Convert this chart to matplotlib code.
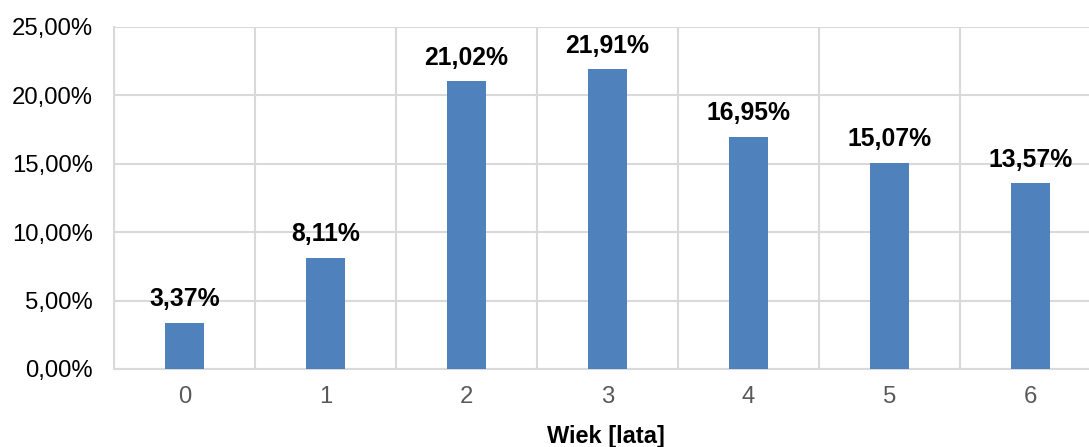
import matplotlib
matplotlib.use("Agg")
import matplotlib.pyplot as plt
from matplotlib.ticker import FuncFormatter, MultipleLocator

# Age distribution data
ages = ["0", "1", "2", "3", "4", "5", "6"]
shares = [3.37, 8.11, 21.02, 21.91, 16.95, 15.07, 13.57]
y_ticks = [0, 5, 10, 15, 20, 25]

plt.rcParams["font.family"] = ["Liberation Sans", "DejaVu Sans"]

W, H = 1089, 447
fig = plt.figure(figsize=(W / 100, H / 100), dpi=100)
ax = fig.add_axes([114 / W, 1 - 369 / H, (1101 - 114) / W, (369 - 27) / H])

x = list(range(len(ages)))
bar_color = "#4f81bd"
ax.bar(x, shares, width=0.27, color=bar_color, zorder=3)

for xi, v in zip(x, shares):
    ax.annotate(f"{v:.2f}%".replace(".", ","), (xi, v), xytext=(0, 12),
                textcoords="offset points", ha="center", va="baseline",
                fontsize=17.8, fontweight="bold", color="#000000", zorder=4)

ax.set_xlim(-0.5, len(ages) - 0.5)
ax.set_ylim(0, 25)
ax.set_yticks(y_ticks)
ax.yaxis.set_major_formatter(FuncFormatter(lambda v, p: f"{v:.2f}%".replace(".", ",")))
ax.set_xticks(x)
ax.set_xticklabels(ages)
ax.xaxis.set_minor_locator(MultipleLocator(1, offset=0.5))

grid_color = "#d9d9d9"
ax.grid(axis="y", which="major", color=grid_color, linewidth=1.5, zorder=0)
ax.grid(axis="x", which="minor", color=grid_color, linewidth=1.5, zorder=0)
ax.grid(axis="x", which="major", visible=False)

for side in ["top", "right"]:
    ax.spines[side].set_visible(False)
ax.spines["left"].set_color(grid_color)
ax.spines["left"].set_linewidth(1.5)
ax.spines["bottom"].set_color(grid_color)
ax.spines["bottom"].set_linewidth(1.5)

ax.tick_params(axis="both", which="both", length=0)
ax.tick_params(axis="y", labelsize=17.2, labelcolor="#000000", pad=15)
ax.tick_params(axis="x", labelsize=17.2, labelcolor="#595959", pad=12)

ax.set_xlabel("Wiek [lata]", fontsize=17, fontweight="bold", color="#000000")
ax.xaxis.set_label_coords((606 - 114) / (1101 - 114), -(425 - 369) / (369 - 27))

fig.savefig("out.png", dpi=100)
